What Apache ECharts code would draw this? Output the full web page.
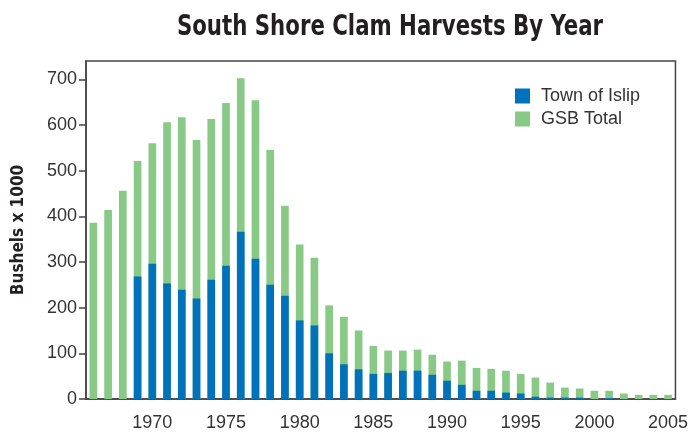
<!DOCTYPE html>
<html>
<head>
<meta charset="utf-8">
<script src="https://cdn.jsdelivr.net/npm/echarts@6/dist/echarts.min.js"></script>
<style>
  html, body { margin: 0; padding: 0; background: #fff; }
  #chart { width: 691px; height: 432px; }
</style>
</head>
<body>
<div id="chart"></div>
<script>
// years 1966 - 2005
var years = [];
for (var y = 1966; y <= 2005; y++) years.push(String(y));

var gsbTotal = [386, 414, 456, 521, 560, 606, 617, 567, 613, 648,
                702, 654, 545, 423, 338, 309, 205, 180, 150, 116,
                106, 106, 108, 97, 82, 84, 68, 66, 62, 55,
                47, 36, 25, 23, 18, 18, 12, 9, 9, 9];
var islip = [null, null, null, 268, 296, 253, 239, 220, 261, 292,
             366, 307, 250, 226, 172, 161, 100, 76, 65, 55,
             57, 62, 62, 53, 40, 31, 18, 18, 14, 12,
             5, 3, 3, 3, null, 2, null, null, null, null];
var yTicks = [0, 100, 200, 300, 400, 500, 600, 700];

var ink = '#333333';
var axisCol = '#444444';
var blue = '#0071bb';
var green = '#87c985';
var narrow = "'Liberation Sans Narrow', 'DejaVu Sans Condensed', sans-serif";

var chart = echarts.init(document.getElementById('chart'), null, { renderer: 'canvas' });
chart.setOption({
  animation: false,
  graphic: [{
    type: 'text', x: 390, y: 27, scaleX: 0.816,
    style: {
      text: 'South Shore Clam Harvests By Year', x: 0, y: 0,
      textAlign: 'center', textVerticalAlign: 'middle',
      font: 'bold 29px ' + narrow, fill: '#231f20'
    }
  }],
  legend: {
    orient: 'vertical', left: 510, top: 82,
    data: ['Town of Islip', 'GSB Total'],
    itemWidth: 15, itemHeight: 15, itemGap: 5,
    icon: 'rect',
    textStyle: { fontFamily: 'Liberation Sans', fontSize: 18, color: ink, padding: [0, 0, 0, 6] }
  },
  grid: { left: 86, right: 7, top: 61, bottom: 32, show: true, borderColor: axisCol, borderWidth: 1.5, backgroundColor: 'transparent' },
  xAxis: {
    type: 'category', data: years,
    axisLine: { lineStyle: { color: axisCol, width: 1.5 } },
    axisTick: { alignWithLabel: true, interval: 0, length: 6, lineStyle: { color: '#222', width: 1.5 } },
    axisLabel: {
      interval: function (i, v) { return Number(v) % 5 === 0; },
      color: ink, fontSize: 18, fontFamily: 'Liberation Sans', margin: 15
    }
  },
  yAxis: {
    type: 'value', min: 0, max: 740,
    name: 'Bushels x 1000', nameLocation: 'middle', nameGap: 59,
    nameTextStyle: { fontFamily: narrow, fontWeight: 'bold', fontSize: 17, color: '#231f20' },
    axisLine: { show: true, lineStyle: { color: axisCol, width: 1.5 } },
    axisTick: { show: true, length: 7, customValues: yTicks, lineStyle: { color: axisCol, width: 1.5 } },
    axisLabel: { customValues: yTicks, color: ink, fontSize: 18, fontFamily: 'Liberation Sans', margin: 9 },
    splitLine: { show: false }
  },
  series: [
    { name: 'GSB Total', type: 'bar', data: gsbTotal, barWidth: '52%', barGap: '-100%', itemStyle: { color: green } },
    { name: 'Town of Islip', type: 'bar', data: islip, barWidth: '52%', barGap: '-100%', itemStyle: { color: blue } }
  ]
});
</script>
</body>
</html>
